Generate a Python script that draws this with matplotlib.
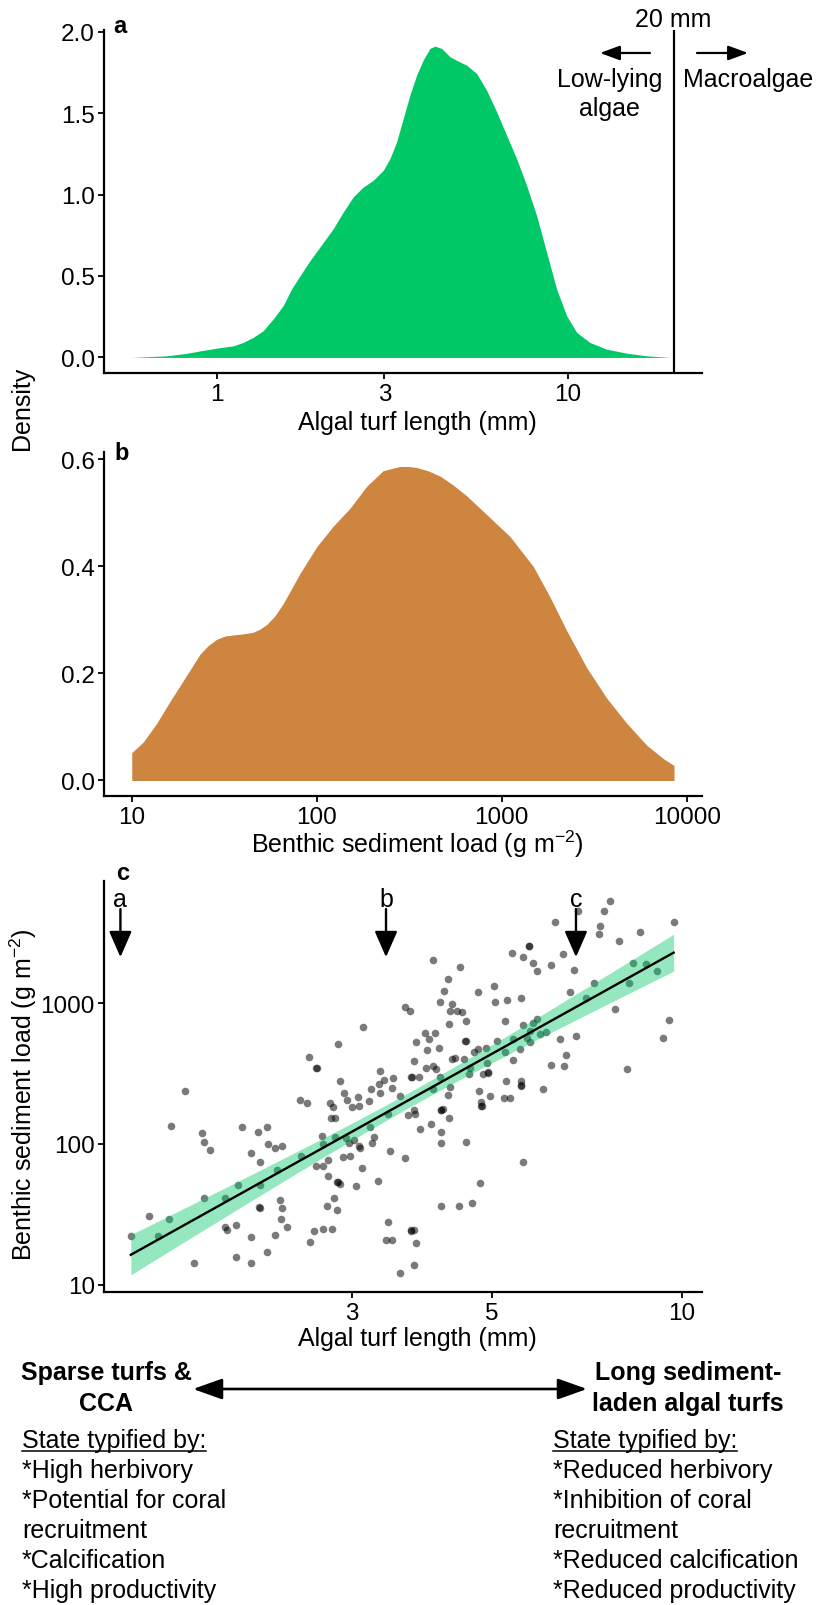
import numpy as np
import matplotlib
matplotlib.use("Agg")
import matplotlib.pyplot as plt
from matplotlib.ticker import FixedLocator, FixedFormatter, NullLocator
from matplotlib.lines import Line2D
from matplotlib.patches import FancyArrowPatch
import matplotlib.transforms as mtransforms

plt.rcParams["font.family"] = ["Liberation Sans", "DejaVu Sans"]
plt.rcParams["mathtext.default"] = "regular"

# ---- panel a: density of algal turf length ----
turf_grid_mm = [0.571, 0.719, 0.820, 0.895, 0.998, 1.113, 1.188, 1.269, 1.355,
                1.447, 1.545, 1.632, 1.724, 1.841, 1.965, 2.145, 2.290, 2.445,
                2.611, 2.788, 2.977, 3.111, 3.251, 3.395, 3.547, 3.707, 3.870,
                4.045, 4.180, 4.368, 4.612, 4.870, 5.146, 5.495, 5.867, 6.266,
                6.690, 7.142, 7.627, 8.144, 8.694, 9.286, 9.915, 10.59, 11.55,
                12.89, 14.70, 16.76, 19.53]
turf_density = [0.0, 0.010, 0.025, 0.040, 0.057, 0.071, 0.092, 0.123, 0.164,
                0.236, 0.318, 0.420, 0.500, 0.594, 0.677, 0.790, 0.892, 0.985,
                1.046, 1.087, 1.148, 1.220, 1.323, 1.466, 1.610, 1.733, 1.825,
                1.897, 1.911, 1.897, 1.846, 1.819, 1.794, 1.743, 1.640, 1.508,
                1.364, 1.220, 1.056, 0.871, 0.646, 0.420, 0.256, 0.154, 0.092,
                0.051, 0.026, 0.010, 0.0]
macroalgae_threshold_mm = 20

# ---- panel b: density of benthic sediment load ----
sed_grid = [10.0, 11.55, 13.65, 16.11, 18.94, 23.39, 25.85, 28.80, 31.93,
            35.29, 39.96, 45.26, 49.38, 53.87, 59.51, 65.73, 81.22, 100.0,
            122.5, 151.4, 186.3, 228.3, 282.0, 313.4, 347.2, 399.6, 464.0,
            548.1, 647.0, 829.8, 1109, 1482, 1824, 2246, 2880, 3695, 4740,
            6077, 7472, 8540]
sed_density = [0.052, 0.072, 0.107, 0.148, 0.186, 0.236, 0.252, 0.264, 0.270,
               0.272, 0.274, 0.277, 0.283, 0.292, 0.308, 0.330, 0.387, 0.437,
               0.475, 0.509, 0.550, 0.579, 0.587, 0.587, 0.585, 0.579, 0.569,
               0.552, 0.532, 0.497, 0.456, 0.400, 0.343, 0.280, 0.211, 0.154,
               0.107, 0.066, 0.041, 0.028]

# ---- panel c: sediment load against turf length ----
turf_mm = [
    1.34, 1.43, 1.48, 1.54, 1.55, 1.63, 1.69, 1.74, 1.75, 1.75, 1.79, 1.89,
    1.89, 1.90, 1.97, 1.97, 1.98, 2.01, 2.08, 2.08, 2.08, 2.13, 2.14, 2.15,
    2.15, 2.15, 2.20, 2.20, 2.21, 2.27, 2.27, 2.28, 2.31, 2.32, 2.33, 2.33,
    2.37, 2.48, 2.49, 2.55, 2.57, 2.58, 2.61, 2.63, 2.64, 2.63, 2.69, 2.70,
    2.70, 2.70, 2.74, 2.75, 2.75, 2.77, 2.78, 2.79, 2.80, 2.81, 2.82, 2.82,
    2.84, 2.85, 2.84, 2.85, 2.87, 2.87, 2.91, 2.92, 2.94, 2.95, 2.97, 2.98,
    3.00, 3.02, 3.05, 3.07, 3.08, 3.08, 3.09, 3.12, 3.13, 3.20, 3.21, 3.22,
    3.23, 3.26, 3.30, 3.31, 3.33, 3.33, 3.37, 3.42, 3.40, 3.43, 3.45, 3.47,
    3.48, 3.49,
    3.58, 3.64, 3.71, 3.80, 3.77, 3.73, 3.74, 3.83, 3.76, 3.69, 3.78, 3.64,
    3.58, 3.77, 3.79, 3.72, 3.73, 3.77, 3.85, 3.93, 3.92, 3.98, 4.07, 3.95,
    4.04, 4.08, 4.01, 4.03, 4.03, 4.13, 4.14, 4.14, 4.15, 4.16, 4.19, 4.16,
    4.15, 4.15, 4.20, 4.27, 4.28, 4.29, 4.27, 4.28, 4.32, 4.30, 4.32, 4.40,
    4.37, 4.45, 4.48, 4.52, 4.54, 4.55, 4.55, 4.55, 4.43, 4.61, 4.62, 4.66,
    4.69, 4.75, 4.76, 4.77, 4.79, 4.81, 4.82, 4.80, 4.84, 4.92, 4.93, 4.94,
    4.90, 4.97, 5.04, 5.06, 5.10, 5.25, 5.27, 5.24, 5.22, 5.28, 5.34, 5.40,
    5.41, 5.39, 5.56, 5.54, 5.56, 5.56, 5.57, 5.60, 5.60, 5.61, 5.68, 5.72,
    5.73, 5.74, 5.75, 5.81, 5.81, 5.89, 5.89, 5.96, 6.04, 6.10, 6.21, 6.21,
    6.31, 6.42, 6.49, 6.51, 6.56, 6.65, 6.74, 6.80, 6.85, 7.05, 7.27, 7.41,
    7.40, 7.53, 7.70, 7.84, 7.97, 8.18, 8.24, 8.38, 8.59, 8.78, 9.15, 9.35,
    9.54, 9.71]
sediment_g_m2 = [
    22.1, 30.9, 22.1, 29.5, 135, 236, 14.3, 120, 104, 41.4, 90.7, 41.4,
    25.9, 24.5, 26.8, 15.8, 51.5, 131, 85.9, 21.8, 14.3, 122, 35.5, 35.2,
    74.1, 51.5, 131, 17.0, 99.5, 93.2, 22.7, 65.4, 39.9, 29.4, 35.0, 97.3,
    25.9, 205, 81.7, 194, 414, 20.1, 24.2, 348, 345, 70.2, 114, 24.9,
    70.2, 99.5, 36.1, 77.0, 59.0, 195, 153, 24.9, 182, 41.6, 153, 113,
    33.8, 509, 54.1, 53.5, 52.0, 278, 80.9, 230, 110, 205, 101, 81.7,
    184, 106, 50.6, 217, 185, 97.3, 93.7, 67.9, 676, 203, 131, 246,
    102, 112, 54.9, 266, 328, 229, 286, 162, 21.0, 28.1, 88.7, 21.0,
    251, 294,
    218, 932, 882, 532, 390, 297, 300, 297, 175, 161, 162, 79.1,
    12.2, 13.9, 19.8, 24.5, 24.3, 24.5, 128, 344, 609, 556, 609, 464,
    359, 340, 139, 246, 2018, 477, 1011, 297, 175, 173, 177, 122,
    101, 36.1, 1210, 1480, 706, 255, 224, 154, 984, 882, 401, 882,
    407, 1791, 859, 403, 535, 749, 535, 104, 36.5, 314, 348, 38.2,
    447, 1191, 472, 236, 52.6, 187, 185, 198, 312, 375, 322, 320,
    480, 220, 1320, 1011, 541, 749, 280, 447, 212, 1044, 212, 556,
    396, 2250, 1079, 472, 281, 259, 262, 74.9, 698, 2108, 565, 2551,
    2530, 526, 637, 1911, 718, 770, 1687, 603, 246, 626, 1870, 361,
    3754, 556, 2214, 357, 428, 1191, 1723, 583, 4492, 1079, 1379, 3497,
    3086, 4492, 5318, 907, 2753, 340, 1386, 1932, 3171, 1901, 1687, 562,
    758, 3774]
example_labels = ["a", "b", "c"]
example_turf_mm = [1.29, 3.40, 6.80]

left_state_items = ["*High herbivory", "*Potential for coral", "recruitment",
                    "*Calcification", "*High productivity"]
right_state_items = ["*Reduced herbivory", "*Inhibition of coral", "recruitment",
                     "*Reduced calcification", "*Reduced productivity"]

GREEN = "#00c867"
BROWN = "#cd853f"
TICK_FS = 17.5
LABEL_FS = 18
NOTE_FS = 18

W, H = 816, 1606
fig = plt.figure(figsize=(W / 100, H / 100), dpi=100)


def px_axes(left, top, right, bottom):
    return fig.add_axes([left / W, 1 - bottom / H, (right - left) / W, (bottom - top) / H])


def style(ax):
    for s in ("top", "right"):
        ax.spines[s].set_visible(False)
    for s in ("left", "bottom"):
        ax.spines[s].set_linewidth(1.6)
        ax.spines[s].set_color("black")
    ax.tick_params(length=4.5, width=1.3, colors="black", labelsize=TICK_FS)
    ax.tick_params(axis="x", pad=3)
    ax.tick_params(axis="y", pad=2)
    ax.set_facecolor("none")


def set_ticks(axis, values, labels):
    axis.set_major_locator(FixedLocator(values))
    axis.set_major_formatter(FixedFormatter(labels))
    axis.set_minor_locator(NullLocator())


# ---------------- panel a ----------------
ax_a = px_axes(104, 31, 702, 374)
style(ax_a)
ax_a.set_xscale("log")
ax_a.fill_between(turf_grid_mm, 0, turf_density, color=GREEN, lw=0)
ax_a.axvline(macroalgae_threshold_mm, color="black", lw=1.6)
ax_a.set_xlim(0.477, 24.1)
ax_a.set_ylim(-0.0955, 2.01)
set_ticks(ax_a.xaxis, [1, 3, 10], ["1", "3", "10"])
set_ticks(ax_a.yaxis, [0, 0.5, 1.0, 1.5, 2.0], ["0.0", "0.5", "1.0", "1.5", "2.0"])
ax_a.text(0.015, 0.994, "a", transform=ax_a.transAxes, fontsize=17,
          fontweight="bold", ha="left", va="baseline")
tr_a = mtransforms.blended_transform_factory(ax_a.transData, ax_a.transAxes)
ax_a.text(macroalgae_threshold_mm, 1.012, "20 mm", transform=tr_a, fontsize=NOTE_FS,
          ha="center", va="baseline")
arrow_small = dict(arrowstyle="-|>,head_length=0.6,head_width=0.22",
                   mutation_scale=20, lw=1.6, color="black", shrinkA=0, shrinkB=0)
ax_a.annotate("", xy=(0.8294, 0.933), xytext=(0.913, 0.933),
              xycoords="axes fraction", textcoords="axes fraction",
              arrowprops=arrow_small, annotation_clip=False)
ax_a.annotate("", xy=(1.077, 0.933), xytext=(0.9916, 0.933),
              xycoords="axes fraction", textcoords="axes fraction",
              arrowprops=arrow_small, annotation_clip=False)
ax_a.text(0.846, 0.836, "Low-lying", transform=ax_a.transAxes, fontsize=NOTE_FS,
          ha="center", va="baseline")
ax_a.text(0.846, 0.752, "algae", transform=ax_a.transAxes, fontsize=NOTE_FS,
          ha="center", va="baseline")
ax_a.text(1.077, 0.836, "Macroalgae", transform=ax_a.transAxes, fontsize=NOTE_FS,
          ha="center", va="baseline", clip_on=False)
fig.text(417 / W, 1 - 430 / H, "Algal turf length (mm)", fontsize=LABEL_FS,
         ha="center", va="baseline")

# ---------------- panel b ----------------
ax_b = px_axes(104, 453, 702, 797)
style(ax_b)
ax_b.set_xscale("log")
ax_b.fill_between(sed_grid, 0, sed_density, color=BROWN, lw=0)
ax_b.set_xlim(7.08, 12100)
ax_b.set_ylim(-0.029, 0.614)
set_ticks(ax_b.xaxis, [10, 100, 1000, 10000], ["10", "100", "1000", "10000"])
set_ticks(ax_b.yaxis, [0, 0.2, 0.4, 0.6], ["0.0", "0.2", "0.4", "0.6"])
ax_b.text(0.018, 0.980, "b", transform=ax_b.transAxes, fontsize=17,
          fontweight="bold", ha="left", va="baseline")
fig.text(417 / W, 1 - 853 / H, "Benthic sediment load (g m$^{-2}$)", fontsize=LABEL_FS,
         ha="center", va="baseline")

fig.text(22 / W, 1 - 408 / H, "Density", fontsize=LABEL_FS, rotation=90,
         ha="center", va="center")

# ---------------- panel c ----------------
ax_c = px_axes(104, 881.7, 702, 1292.7)
style(ax_c)
ax_c.set_xscale("log")
ax_c.set_yscale("log")
x = np.asarray(turf_mm, float)
y = np.asarray(sediment_g_m2, float)
ax_c.scatter(x, y, s=30, color="black", alpha=0.52, linewidths=0, zorder=2)

# least-squares fit on the log-log scale with a 95% confidence band
lx, ly = np.log10(x), np.log10(y)
n = lx.size
slope, intercept = np.polyfit(lx, ly, 1)
resid = ly - (intercept + slope * lx)
s_res = np.sqrt(np.sum(resid ** 2) / (n - 2))
xbar = lx.mean()
sxx = np.sum((lx - xbar) ** 2)
gx = np.linspace(lx.min(), lx.max(), 200)
fit = intercept + slope * gx
se = s_res * np.sqrt(1 / n + (gx - xbar) ** 2 / sxx)
t_crit = 1.97
ax_c.fill_between(10 ** gx, 10 ** (fit - t_crit * se), 10 ** (fit + t_crit * se),
                  color=GREEN, alpha=0.42, lw=0, zorder=3)
ax_c.plot(10 ** gx, 10 ** fit, color="black", lw=1.7, zorder=4)

ax_c.set_xlim(1.215, 10.77)
ax_c.set_ylim(8.96, 7370)
set_ticks(ax_c.xaxis, [3, 5, 10], ["3", "5", "10"])
set_ticks(ax_c.yaxis, [10, 100, 1000], ["10", "100", "1000"])
ax_c.text(0.02, 1.004, "c", transform=ax_c.transAxes, fontsize=17,
          fontweight="bold", ha="left", va="baseline")
tr_c = mtransforms.blended_transform_factory(ax_c.transData, ax_c.transAxes)
arrow_big = dict(arrowstyle="-|>,head_length=0.8,head_width=0.35",
                 mutation_scale=20, lw=1.7, color="black", shrinkA=0, shrinkB=0)
for lab, xm in zip(example_labels, example_turf_mm):
    ax_c.text(xm, 0.939, lab, transform=tr_c, fontsize=NOTE_FS, ha="center",
              va="baseline")
    ax_c.annotate("", xy=(xm, 0.814), xytext=(xm, 0.931), xycoords=tr_c,
                  textcoords=tr_c, arrowprops=arrow_big)
fig.text(417 / W, 1 - 1346 / H, "Algal turf length (mm)", fontsize=LABEL_FS,
         ha="center", va="baseline")
fig.text(23 / W, 1 - 1095 / H, "Benthic sediment load (g m$^{-2}$)", fontsize=LABEL_FS,
         rotation=90, ha="center", va="center")

# ---------------- state summary ----------------
for xc, lines in ((106, ("Sparse turfs &", "CCA")),
                  (688, ("Long sediment-", "laden algal turfs"))):
    for i, line in enumerate(lines):
        fig.text(xc / W, 1 - (1380 + 31 * i) / H, line, fontsize=NOTE_FS,
                 fontweight="bold", ha="center", va="baseline")
fig.patches.append(FancyArrowPatch(
    (193 / W, 1 - 1390 / H), (587 / W, 1 - 1390 / H), transform=fig.transFigure,
    arrowstyle="<|-|>,head_length=0.9,head_width=0.32", mutation_scale=20,
    lw=1.9, color="black", shrinkA=0, shrinkB=0))

heads = []
for x0 in (22, 553):
    heads.append(fig.text(x0 / W, 1 - 1448 / H, "State typified by:", fontsize=NOTE_FS,
                          ha="left", va="baseline"))
for x0, items in ((22, left_state_items), (553, right_state_items)):
    for i, item in enumerate(items):
        fig.text(x0 / W, 1 - (1478 + 30 * i) / H, item, fontsize=NOTE_FS,
                 ha="left", va="baseline")

fig.canvas.draw()
renderer = fig.canvas.get_renderer()
for tx in heads:
    bb = tx.get_window_extent(renderer)
    yline = 1 - 1452 / H
    fig.add_artist(Line2D([bb.x0 / W, bb.x1 / W], [yline, yline],
                          transform=fig.transFigure, color="black", lw=1.1))

fig.savefig("out.png", dpi=100, facecolor="white")
